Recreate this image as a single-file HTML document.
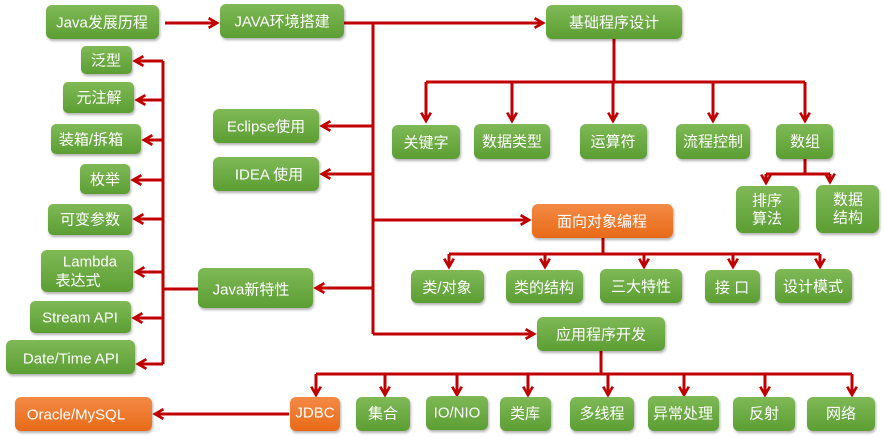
<!DOCTYPE html>
<html><head><meta charset="utf-8"><style>
html,body{margin:0;padding:0;background:#fff;width:885px;height:439px;overflow:hidden}
svg text{font-family:"Liberation Sans","Noto Sans CJK SC",sans-serif;fill:#fff;font-size:15px;text-anchor:middle;dominant-baseline:central}
</style></head><body>
<svg width="885" height="439" viewBox="0 0 885 439" xmlns="http://www.w3.org/2000/svg">
<defs>
<linearGradient id="g" x1="0" y1="0" x2="0" y2="1"><stop offset="0" stop-color="#7fb956"/><stop offset="1" stop-color="#5c9e33"/></linearGradient>
<linearGradient id="o" x1="0" y1="0" x2="0" y2="1"><stop offset="0" stop-color="#f48a45"/><stop offset="1" stop-color="#e86a18"/></linearGradient>
<filter id="s" x="-10%" y="-10%" width="125%" height="140%"><feDropShadow dx="1" dy="2" stdDeviation="1.2" flood-color="#000" flood-opacity="0.3"/></filter>
<marker id="a" viewBox="0 0 10 10" refX="8" refY="5" markerWidth="4" markerHeight="4" orient="auto" markerUnits="strokeWidth"><polyline points="1,1 8,5 1,9" fill="none" stroke="#c00000" stroke-width="2.2"/></marker>
</defs>
<g stroke="#c00000" stroke-width="3" fill="none">
<line x1="165" y1="23" x2="217" y2="23" marker-end="url(#a)"/>
<line x1="344" y1="23" x2="543" y2="23" marker-end="url(#a)"/>
<line x1="373" y1="23" x2="373" y2="334"/>
<line x1="373" y1="126" x2="322" y2="126" marker-end="url(#a)"/>
<line x1="373" y1="174" x2="322" y2="174" marker-end="url(#a)"/>
<line x1="373" y1="288" x2="316" y2="288" marker-end="url(#a)"/>
<line x1="373" y1="220" x2="529" y2="220" marker-end="url(#a)"/>
<line x1="373" y1="334" x2="534" y2="334" marker-end="url(#a)"/>
<!-- left -->
<line x1="198" y1="289" x2="163" y2="289"/>
<line x1="163" y1="61" x2="163" y2="364"/>
<line x1="163" y1="61" x2="135" y2="61" marker-end="url(#a)"/>
<line x1="163" y1="100" x2="137" y2="100" marker-end="url(#a)"/>
<line x1="163" y1="140" x2="144" y2="140" marker-end="url(#a)"/>
<line x1="163" y1="180" x2="133" y2="180" marker-end="url(#a)"/>
<line x1="163" y1="219" x2="135" y2="219" marker-end="url(#a)"/>
<line x1="163" y1="272" x2="136" y2="272" marker-end="url(#a)"/>
<line x1="163" y1="318" x2="134" y2="318" marker-end="url(#a)"/>
<line x1="163" y1="364" x2="138" y2="364" marker-end="url(#a)"/>
<!-- basic -->
<line x1="614" y1="39" x2="614" y2="82"/>
<line x1="426" y1="82" x2="805" y2="82"/>
<line x1="426" y1="82" x2="426" y2="121" marker-end="url(#a)"/>
<line x1="512" y1="82" x2="512" y2="121" marker-end="url(#a)"/>
<line x1="613" y1="82" x2="613" y2="121" marker-end="url(#a)"/>
<line x1="713" y1="82" x2="713" y2="121" marker-end="url(#a)"/>
<line x1="805" y1="82" x2="805" y2="121" marker-end="url(#a)"/>
<line x1="805" y1="159" x2="805" y2="174"/>
<line x1="766" y1="174" x2="830" y2="174"/>
<line x1="766" y1="174" x2="766" y2="183" marker-end="url(#a)"/>
<line x1="830" y1="174" x2="830" y2="182" marker-end="url(#a)"/>
<!-- OOP -->
<line x1="603" y1="238" x2="603" y2="254"/>
<line x1="449" y1="254" x2="820" y2="254"/>
<line x1="449" y1="254" x2="449" y2="267" marker-end="url(#a)"/>
<line x1="545" y1="254" x2="545" y2="267" marker-end="url(#a)"/>
<line x1="644" y1="254" x2="644" y2="267" marker-end="url(#a)"/>
<line x1="733" y1="254" x2="733" y2="267" marker-end="url(#a)"/>
<line x1="820" y1="254" x2="820" y2="267" marker-end="url(#a)"/>
<!-- app -->
<line x1="601" y1="351" x2="601" y2="374"/>
<line x1="316" y1="374" x2="852" y2="374"/>
<line x1="316" y1="374" x2="316" y2="395" marker-end="url(#a)"/>
<line x1="385" y1="374" x2="385" y2="395" marker-end="url(#a)"/>
<line x1="457" y1="374" x2="457" y2="395" marker-end="url(#a)"/>
<line x1="528" y1="374" x2="528" y2="395" marker-end="url(#a)"/>
<line x1="608" y1="374" x2="608" y2="395" marker-end="url(#a)"/>
<line x1="684" y1="374" x2="684" y2="395" marker-end="url(#a)"/>
<line x1="765" y1="374" x2="765" y2="395" marker-end="url(#a)"/>
<line x1="852" y1="374" x2="852" y2="395" marker-end="url(#a)"/>
<line x1="289" y1="414" x2="155" y2="414" marker-end="url(#a)"/>
</g>
<g filter="url(#s)">
<rect x="46" y="5" width="113" height="34" rx="6" fill="url(#g)"/>
<rect x="220" y="4" width="124" height="34" rx="6" fill="url(#g)"/>
<rect x="546" y="5" width="136" height="34" rx="6" fill="url(#g)"/>
<rect x="392" y="125" width="68" height="34" rx="6" fill="url(#g)"/>
<rect x="474" y="124" width="76" height="35" rx="6" fill="url(#g)"/>
<rect x="580" y="124" width="67" height="35" rx="6" fill="url(#g)"/>
<rect x="676" y="124" width="74" height="35" rx="6" fill="url(#g)"/>
<rect x="776" y="124" width="57" height="35" rx="6" fill="url(#g)"/>
<rect x="736" y="186" width="63" height="47" rx="7" fill="url(#g)"/>
<rect x="816" y="185" width="63" height="48" rx="7" fill="url(#g)"/>
<rect x="532" y="204" width="141" height="34" rx="6" fill="url(#o)"/>
<rect x="411" y="270" width="73" height="33" rx="6" fill="url(#g)"/>
<rect x="506" y="270" width="77" height="33" rx="6" fill="url(#g)"/>
<rect x="600" y="269" width="82" height="34" rx="6" fill="url(#g)"/>
<rect x="705" y="270" width="55" height="33" rx="6" fill="url(#g)"/>
<rect x="775" y="269" width="77" height="34" rx="6" fill="url(#g)"/>
<rect x="537" y="317" width="128" height="34" rx="6" fill="url(#g)"/>
<rect x="290" y="397" width="50" height="34" rx="6" fill="url(#o)"/>
<rect x="356" y="397" width="54" height="34" rx="6" fill="url(#g)"/>
<rect x="426" y="396" width="62" height="34" rx="6" fill="url(#g)"/>
<rect x="500" y="397" width="51" height="34" rx="6" fill="url(#g)"/>
<rect x="570" y="397" width="64" height="34" rx="6" fill="url(#g)"/>
<rect x="648" y="396" width="71" height="35" rx="6" fill="url(#g)"/>
<rect x="733" y="397" width="62" height="34" rx="6" fill="url(#g)"/>
<rect x="807" y="397" width="68" height="34" rx="6" fill="url(#g)"/>
<rect x="15" y="397" width="137" height="34" rx="6" fill="url(#o)"/>
<rect x="81" y="46" width="51" height="28" rx="5" fill="url(#g)"/>
<rect x="63" y="82" width="71" height="31" rx="5" fill="url(#g)"/>
<rect x="51" y="124" width="90" height="30" rx="5" fill="url(#g)"/>
<rect x="80" y="164" width="50" height="30" rx="5" fill="url(#g)"/>
<rect x="48" y="204" width="84" height="31" rx="5" fill="url(#g)"/>
<rect x="41" y="250" width="92" height="42" rx="6" fill="url(#g)"/>
<rect x="30" y="301" width="101" height="32" rx="5" fill="url(#g)"/>
<rect x="6" y="340" width="129" height="34" rx="6" fill="url(#g)"/>
<rect x="213" y="109" width="106" height="34" rx="6" fill="url(#g)"/>
<rect x="213" y="157" width="106" height="34" rx="6" fill="url(#g)"/>
<rect x="198" y="268" width="115" height="40" rx="6" fill="url(#g)"/>
</g>
<g>
<text x="102" y="23">Java发展历程</text>
<text x="282" y="22">JAVA环境搭建</text>
<text x="614" y="23">基础程序设计</text>
<text x="426" y="143">关键字</text>
<text x="512" y="142">数据类型</text>
<text x="613" y="142">运算符</text>
<text x="713" y="142">流程控制</text>
<text x="805" y="142">数组</text>
<text x="767" y="201">排序</text><text x="767" y="219">算法</text>
<text x="848" y="200">数据</text><text x="848" y="218">结构</text>
<text x="602" y="222">面向对象编程</text>
<text x="447" y="288">类/对象</text>
<text x="544" y="288">类的结构</text>
<text x="641" y="287">三大特性</text>
<text x="732" y="288">接 口</text>
<text x="813" y="287">设计模式</text>
<text x="601" y="335">应用程序开发</text>
<text x="315" y="413">JDBC</text>
<text x="383" y="414">集合</text>
<text x="457" y="413">IO/NIO</text>
<text x="525" y="414">类库</text>
<text x="602" y="414">多线程</text>
<text x="683" y="414">异常处理</text>
<text x="764" y="414">反射</text>
<text x="841" y="414">网络</text>
<text x="76" y="415">Oracle/MySQL</text>
<text x="106" y="61">泛型</text>
<text x="99" y="98">元注解</text>
<text x="91" y="140">装箱/拆箱</text>
<text x="105" y="180">枚举</text>
<text x="90" y="220">可变参数</text>
<text x="90" y="262">Lambda</text><text x="78" y="281">表达式</text>
<text x="80" y="318">Stream API</text>
<text x="71" y="359">Date/Time API</text>
<text x="266" y="127">Eclipse使用</text>
<text x="269" y="175">IDEA 使用</text>
<text x="251" y="290">Java新特性</text>
</g>
</svg>
</body></html>
